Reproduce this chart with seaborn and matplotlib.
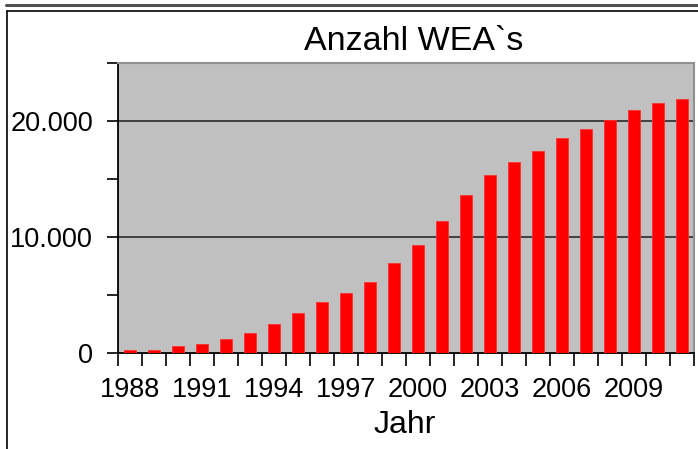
import matplotlib
matplotlib.use("Agg")
import matplotlib.pyplot as plt
import seaborn as sns
import pandas as pd
from matplotlib.lines import Line2D
from matplotlib.ticker import FixedLocator, FuncFormatter

years = list(range(1988, 2012))
counts = [220, 230, 630, 800, 1170, 1750, 2500, 3450, 4390, 5140, 6090, 7780,
          9280, 11380, 13620, 15340, 16460, 17410, 18530, 19280, 20050, 20970,
          21550, 21920]
label_years = [1988, 1991, 1994, 1997, 2000, 2003, 2006, 2009]
y_major = [0, 10000, 20000]
y_minor = [5000, 15000, 25000]

sns.set_theme(style="white")
plt.rcParams['font.family'] = ['Liberation Sans', 'DejaVu Sans']
plt.rcParams['text.color'] = 'black'
plt.rcParams['xtick.color'] = 'black'
plt.rcParams['ytick.color'] = 'black'

df = pd.DataFrame({"Jahr": [str(y) for y in years], "Anzahl": counts})

W, H = 698, 449
fig = plt.figure(figsize=(W / 100, H / 100), dpi=100)
fig.patch.set_facecolor("white")
L, R, T, B = 118, 694, 63, 353
ax = fig.add_axes([L / W, 1 - B / H, (R - L) / W, (B - T) / H])
ax.set_facecolor("#C0C0C0")

sns.barplot(data=df, x="Jahr", y="Anzahl", color="#FF0000", width=0.53,
            saturation=1, edgecolor="#FF3030", linewidth=0.6, ax=ax, zorder=3)

ax.set_ylim(0, 25000)
ax.set_xlim(-0.5, len(years) - 0.5)
for v in y_major[1:]:
    ax.axhline(v, color="#404040", lw=1.4, zorder=2)

ax.yaxis.set_major_locator(FixedLocator(y_major))
ax.yaxis.set_minor_locator(FixedLocator(y_minor))
ax.yaxis.set_major_formatter(FuncFormatter(lambda v, p: f"{int(v):,}".replace(",", ".")))
ax.tick_params(axis="y", which="both", direction="out", length=8, width=1.2,
               color="black", left=True, labelsize=19.5, pad=10, labelcolor="black")

bounds = [i - 0.5 for i in range(len(years) + 1)]
ax.set_xticks(bounds)
ax.set_xticklabels([""] * len(bounds))
ax.set_xticks([years.index(y) for y in label_years], minor=True)
ax.set_xticklabels([str(y) for y in label_years], minor=True)
ax.tick_params(axis="x", which="major", direction="out", length=9, width=1.2,
               color="black", bottom=True)
ax.tick_params(axis="x", which="minor", length=0, labelsize=19.5, pad=17,
               labelcolor="black")

ax.set_xlabel("")
ax.set_ylabel("")
for s in ["left", "bottom"]:
    ax.spines[s].set_color("black")
    ax.spines[s].set_linewidth(1.3)
for s in ["top", "right"]:
    ax.spines[s].set_color("#909090")
    ax.spines[s].set_linewidth(1.5)
    ax.spines[s].set_visible(True)

fig.text(414 / W, 1 - 41 / H, "Anzahl WEA`s", ha="center", va="center", fontsize=24.5,
         color="black")
fig.text(405 / W, 1 - 425 / H, "Jahr", ha="center", va="center", fontsize=23,
         color="black")

# outer frame lines
fig.add_artist(Line2D([6 / W, 1], [1 - 5 / H, 1 - 5 / H], color="#505050", lw=2.2,
                      transform=fig.transFigure))
fig.add_artist(Line2D([7 / W, 1], [1 - 10.5 / H, 1 - 10.5 / H], color="black", lw=1.2,
                      transform=fig.transFigure))
fig.add_artist(Line2D([7 / W, 7 / W], [0, 1 - 10.5 / H], color="black", lw=1.2,
                      transform=fig.transFigure))

fig.savefig("out.png", dpi=100)
